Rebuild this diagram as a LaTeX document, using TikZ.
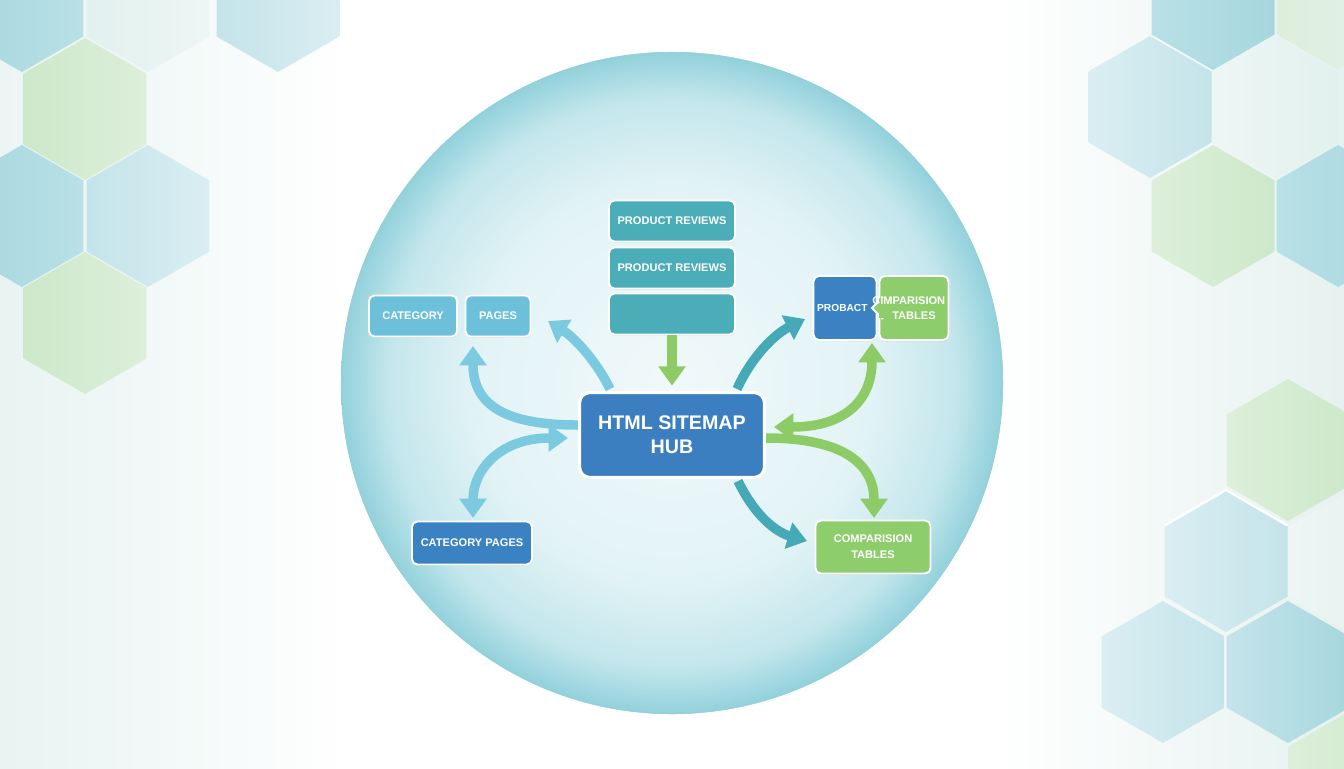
\documentclass[tikz,border=0pt]{standalone}
\usepackage{fontspec}
\setmainfont{Liberation Sans}
\usetikzlibrary{arrows.meta,shadows}
\definecolor{bgL}{HTML}{E8F3F2}
\definecolor{bgR}{HTML}{E6F2F0}
\definecolor{ballA}{HTML}{F1F9FA}
\definecolor{ballB}{HTML}{E2F3F6}
\definecolor{ballC}{HTML}{C3E6EC}
\definecolor{ballD}{HTML}{92D1DB}
\definecolor{hTeal}{HTML}{A6D7DE}
\definecolor{hTealL}{HTML}{B9E0E6}
\definecolor{hBlue}{HTML}{C4E4EA}
\definecolor{hBlueL}{HTML}{DAEEF2}
\definecolor{hGreen}{HTML}{CDE8CA}
\definecolor{hGreenL}{HTML}{DDEFDA}
\definecolor{hPale}{HTML}{E2F1EE}
\definecolor{hPaleL}{HTML}{EDF6F4}
\definecolor{cLight}{HTML}{6DC0DA}
\definecolor{cTeal}{HTML}{4AADB7}
\definecolor{cHub}{HTML}{3B7FC0}
\definecolor{cBlue}{HTML}{3A82C1}
\definecolor{cGreen}{HTML}{8DCD6C}
\definecolor{aLight}{HTML}{7CCAE0}
\definecolor{aTeal}{HTML}{46A9B7}
\definecolor{aGreen}{HTML}{8DCB66}
\pgfdeclareradialshading{ball}{\pgfpoint{0bp}{0bp}}{color(0bp)=(ballA); color(15bp)=(ballB); color(21.5bp)=(ballC); color(25bp)=(ballD); color(50bp)=(ballD)}
\pgfdeclarehorizontalshading{bgsh}{100bp}{color(0bp)=(bgL); color(25bp)=(bgL); color(38bp)=(white); color(62bp)=(white); color(75bp)=(bgR); color(100bp)=(bgR)}
\newcommand\hexa[4]{\shade[left color=#3,right color=#4] (#1,#2) +(30:71) -- +(90:71) -- +(150:71) -- +(210:71) -- +(270:71) -- +(330:71) -- cycle;}
\tikzset{bigtri/.tip={Triangle[length=11pt,width=15pt]}}
\begin{document}
\begin{tikzpicture}[x=0.02cm,y=-0.02cm,
  box/.style={rounded corners=3pt, draw=white, line width=1.1pt, text=white,
    font=\bfseries\fontsize{6.3}{7.6}\selectfont, align=center, inner sep=0pt,
    drop shadow={opacity=0.15, shadow xshift=0.4pt, shadow yshift=-0.8pt}},
  hubbox/.style={box, rounded corners=6pt, line width=1.8pt,
    font=\bfseries\fontsize{11.2}{13.6}\selectfont},
  arr/.style={line width=5.4pt, -{bigtri}},
  darr/.style={line width=5.4pt, {bigtri}-{bigtri}}]
\useasboundingbox (0,0) rectangle (1344,768);
% background
\shade[shading=bgsh] (0,0) rectangle (1344,768);
% hexagons left
\hexa{-40}{109}{hPale}{hPaleL}
\hexa{22}{1}{hTeal}{hTealL}
\hexa{148}{1}{hPale}{hPaleL}
\hexa{278}{1}{hBlue}{hBlueL}
\hexa{85}{109}{hGreen}{hGreenL}
\hexa{22}{216}{hTeal}{hTealL}
\hexa{148}{216}{hBlue}{hBlueL}
\hexa{85}{323}{hGreen}{hGreenL}
% hexagons top right
\hexa{1338}{-1}{hGreenL}{hPale}
\hexa{1213}{-1}{hTealL}{hTeal}
\hexa{1150}{107}{hBlueL}{hBlue}
\hexa{1276}{107}{hPaleL}{hPale}
\hexa{1213}{216}{hGreenL}{hGreen}
\hexa{1338}{216}{hTealL}{hTeal}
% hexagons bottom right
\hexa{1350}{562}{hPaleL}{hPale}
\hexa{1350}{782}{hGreenL}{hGreen}
\hexa{1288}{450}{hGreenL}{hGreen}
\hexa{1226}{561}{hBlueL}{hBlue}
\hexa{1163}{672}{hBlueL}{hBlue}
\hexa{1288}{672}{hBlue}{hTeal}
\draw[white, line width=1.3pt] (1226,561) +(210:71) -- +(270:71) -- +(330:71);
% big circle
\shade[shading=ball] (672,383) circle (331);
\draw[ballD, line width=0.6pt] (672,383) circle (330.5);
% nodes
\node[box, fill=cLight, minimum width=1.76cm, minimum height=0.82cm] (cat) at (413,316) {CATEGORY};
\node[box, fill=cLight, minimum width=1.30cm, minimum height=0.82cm] (pages) at (498,316) {PAGES};
\node[box, fill=cTeal, minimum width=2.52cm, minimum height=0.82cm] (pr1) at (672,221) {PRODUCT REVIEWS};
\node[box, fill=cTeal, minimum width=2.52cm, minimum height=0.82cm] (pr2) at (672,268) {PRODUCT REVIEWS};
\node[box, fill=cTeal, minimum width=2.52cm, minimum height=0.82cm] (blank) at (672,314) {};
\node[hubbox, fill=cHub, minimum width=3.70cm, minimum height=1.70cm] (hub) at (672,435) {HTML SITEMAP\\HUB};
\node[box, fill=cBlue, minimum width=1.26cm, minimum height=1.28cm, font=\bfseries\fontsize{5.8}{7}\selectfont] (probact) at (845,308) {\hspace*{-3pt}PROBACT};
\node[box, fill=cGreen, minimum width=1.38cm, minimum height=1.28cm] (cimp) at (914,308) {};
\fill[cGreen, draw=white, line width=1.1pt] (883,297) -- (872,308) -- (883,319);
\fill[cGreen] (879,298) rectangle (885,318);
\node[text=white, font=\bfseries\fontsize{6.3}{8.2}\selectfont, align=center, inner sep=0pt] (cimptxt) at (cimp.center) {\makebox[0pt]{\hspace*{-6pt}CIMPARISION}\\TABLES};
\node[box, fill=cBlue, minimum width=2.40cm, minimum height=0.86cm] (catpages) at (472,543) {CATEGORY PAGES};
\node[box, fill=cGreen, minimum width=2.30cm, minimum height=1.06cm, font=\bfseries\fontsize{6.3}{9}\selectfont] (comp) at (873,547) {COMPARISION\\TABLES};
% connector end points
\coordinate (a1s) at (610,389);
\coordinate (a1e) at (548,321);
\coordinate (a2s) at (hub.west |- 0,425);
\coordinate (a2e) at (473,346);
\coordinate (a3s) at (473,518);
\coordinate (a3e) at (568,438);
\coordinate (a5s) at (737,389);
\coordinate (a5e) at (805,319);
\coordinate (a6s) at (774,427);
\coordinate (a6e) at (872,343);
\coordinate (a7s) at (hub.east |- 0,438);
\coordinate (a7e) at (874,518);
\coordinate (a8s) at (738,481);
\coordinate (a8e) at (807,541);
% connectors
\draw[arr, aLight] (a1s) .. controls (597,362) and (575,338) .. (a1e);
\draw[arr, aLight] (a2s) .. controls (505,425) and (473,405) .. (a2e);
\draw[darr, aLight] (a3s) .. controls (473,470) and (500,438) .. (a3e);
\draw[arr, aGreen, shorten >=3pt] (blank.south) -- (hub.north);
\draw[arr, aTeal] (a5s) .. controls (752,356) and (775,334) .. (a5e);
\draw[darr, aGreen] (a6s) .. controls (845,427) and (872,400) .. (a6e);
\draw[arr, aGreen] (a7s) .. controls (845,438) and (874,465) .. (a7e);
\draw[arr, aTeal] (a8s) .. controls (755,516) and (776,532) .. (a8e);
\end{tikzpicture}
\end{document}
